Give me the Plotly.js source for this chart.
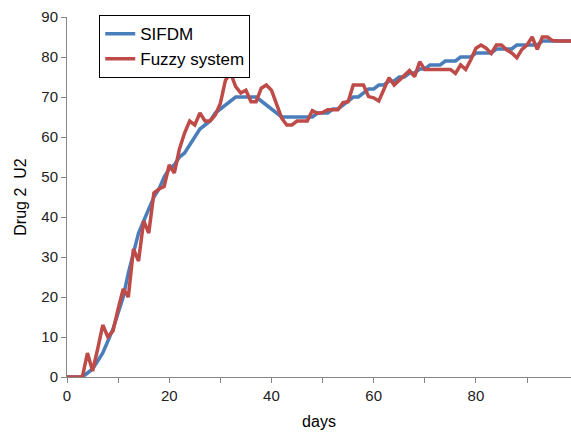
<!DOCTYPE html>
<html>
<head>
<meta charset="utf-8">
<script src="https://cdn.plot.ly/plotly-3.0.1.min.js"></script>
<style>html,body{margin:0;padding:0;background:#fff;}#chart{width:571px;height:436px;}</style>
</head>
<body>
<div id="chart"></div>
<script>
const days = [];
for (let d = 0; d <= 99; d++) days.push(d);

const sifdm = [0,0,0,0,1,2,4,6,9,12,16,20,26,31,36,39,42,45,47,50,
  52,53,55,56,58,60,62,63,64,66,67,68,69,70,70,70,70,70,69,68,
  67,66,65,65,65,65,65,65,65,66,66,66,67,67,68,69,70,70,71,72,
  72,73,73,74,74,75,75,76,76,77,77,78,78,78,79,79,79,80,80,80,
  81,81,81,81,82,82,82,82,83,83,83,83,83,84,84,84,84,84,84,84];

const fuzzy = [0,0,0,0,6,1.5,7,13,10,11.5,17,22,20,32,29,39,36,46,47,47.6,
  53,51,57,61,64,63,66,64,64,65.5,68.4,74.2,76,72.6,71,71.7,68.8,68.8,72.2,73,
  71.7,68,64.7,63,63,64,64,64,66.6,65.9,66.1,66.8,66.8,66.8,68.6,68.8,73,73,73,70.1,
  69.8,69,72,74.8,73,74.3,75.5,76.6,75.1,78.8,76.9,76.9,76.9,76.9,76.9,76.9,75.9,78,76.9,79.3,
  82.2,83,82.2,80.9,83,83,81.8,81,79.8,81.9,83,85,81.9,85,85,84.1,84,84,84,84];

const seriesNames = ['SIFDM', 'Fuzzy system'];
const xTitle = 'days';
const yTitle = 'Drug 2  U2';

const traces = [
  {x: days, y: sifdm, name: seriesNames[0], type: 'scatter', mode: 'lines',
   line: {color: '#4A7EBB', width: 3.5}, legendgroup: 'a'},
  {x: days, y: fuzzy, name: seriesNames[1], type: 'scatter', mode: 'lines',
   line: {color: '#BE4B48', width: 3.5}, legendgroup: 'b'}
];

const font = "'Liberation Sans', Arial, sans-serif";
const layout = {
  width: 571, height: 436,
  margin: {l: 67, r: 0, t: 17, b: 59},
  paper_bgcolor: '#fff', plot_bgcolor: '#fff',
  font: {family: font, size: 15, color: '#222'},
  showlegend: true,
  legend: {
    x: 0.064, y: 1.005, xanchor: 'left', yanchor: 'top',
    bordercolor: '#000', borderwidth: 1, bgcolor: '#fff',
    font: {family: font, size: 17, color: '#000'},
    traceorder: 'grouped', tracegroupgap: 0, itemwidth: 30
  },
  xaxis: {
    range: [0, 98.6], tickmode: 'array', tickvals: [0,10,20,30,40,50,60,70,80,90],
    ticktext: ['0','','20','','40','','60','','80',''],
    showgrid: false, zeroline: false, showline: true, linecolor: '#868686', linewidth: 1,
    ticks: 'outside', ticklen: 5, tickcolor: '#868686',
    tickfont: {size: 15, color: '#222'},
    title: {text: xTitle, font: {size: 16, color: '#000'}, standoff: 12}
  },
  yaxis: {
    range: [0, 90], tickmode: 'array', tickvals: [0,10,20,30,40,50,60,70,80,90],
    showgrid: false, zeroline: false, showline: true, linecolor: '#868686', linewidth: 1,
    ticks: 'outside', ticklen: 5, tickcolor: '#868686',
    tickfont: {size: 15, color: '#222'},
    title: {text: yTitle, font: {size: 16, color: '#000'}, standoff: 10}
  }
};

Plotly.newPlot('chart', traces, layout, {displayModeBar: false, staticPlot: true});
</script>
</body>
</html>
